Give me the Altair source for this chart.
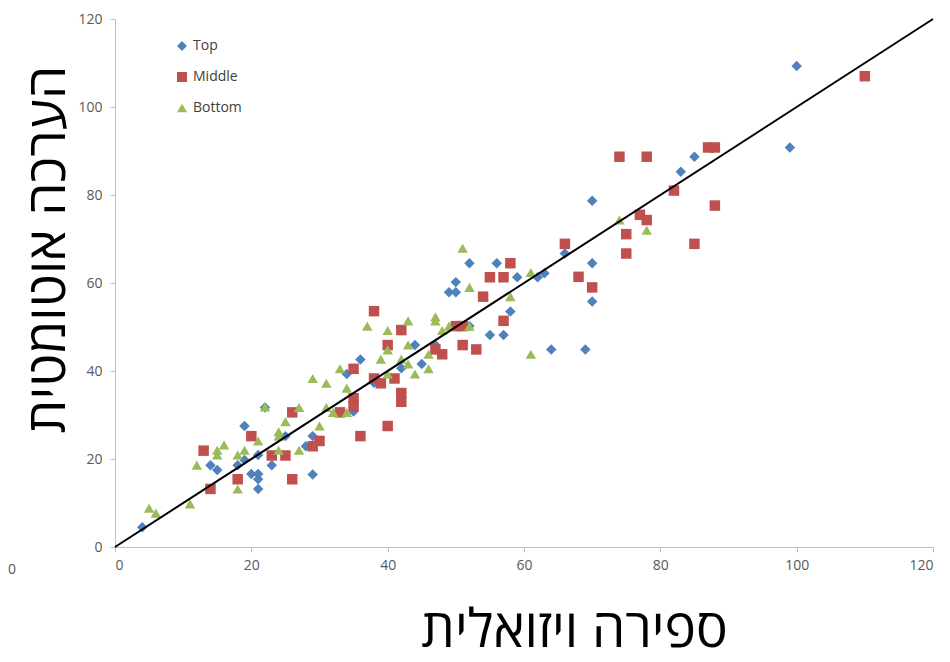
import altair as alt
import pandas as pd

series_names = ["Top", "Middle", "Bottom"]
series_colors = ["#4f81bd", "#c0504d", "#9bbb59"]
series_shapes = ["diamond", "square", "triangle-up"]

top_x = [4, 14, 15, 18, 19, 19, 20, 21, 21, 21, 21, 23, 22, 25, 28, 29, 29, 34, 36, 35, 38, 42,
         49, 50, 50, 59, 62, 63, 58, 55, 57, 64, 69, 70, 44, 45, 47, 52, 52, 56, 66, 70, 70, 83,
         85, 99, 100]
top_y = [4.5, 18.6, 17.5, 18.6, 27.5, 19.8, 16.6, 16.6, 15.4, 13.2, 20.9, 18.6, 31.7, 25.2, 22.9,
         25.2, 16.5, 39.3, 42.6, 30.8, 37.3, 40.6, 57.9, 57.9, 60.2, 61.3, 61.3, 62.2, 53.5, 48.2,
         48.2, 44.9, 44.9, 55.8, 45.9, 41.6, 45.9, 50.2, 64.5, 64.5, 66.7, 64.5, 78.7, 85.3, 88.7,
         90.8, 109.3]

mid_x = [13, 14, 18, 20, 23, 25, 26, 26, 29, 30, 33, 35, 35, 35, 36, 38, 38, 39, 40, 40, 41, 42,
         42, 42, 47, 48, 50, 51, 51, 53, 54, 55, 57, 57, 58, 66, 68, 70, 74, 75, 75, 77, 78, 78,
         82, 85, 87, 88, 88, 110]
mid_y = [21.9, 13.2, 15.4, 25.2, 20.8, 20.8, 15.4, 30.6, 22.9, 24.1, 30.6, 40.5, 33.8, 32.0, 25.2,
         53.6, 38.3, 37.2, 45.9, 27.5, 38.3, 49.3, 35.0, 33.0, 44.9, 43.8, 50.2, 50.2, 45.9, 44.9,
         56.9, 61.3, 61.3, 51.4, 64.5, 68.9, 61.4, 59.0, 88.7, 71.1, 66.7, 75.5, 74.3, 88.7, 81.0,
         68.9, 90.8, 90.8, 77.6, 107.0]

bot_x = [5, 6, 11, 12, 15, 15, 16, 18, 18, 19, 21, 22, 24, 24, 24, 25, 27, 27, 29, 30, 31, 31,
         32, 33, 34, 34, 37, 39, 40, 40, 40, 42, 43, 43, 43, 44, 46, 46, 47, 47, 48, 49, 51, 52,
         52, 58, 61, 61, 74, 78]
bot_y = [8.8, 7.7, 9.8, 18.6, 22.0, 20.9, 23.2, 20.9, 13.2, 22.0, 24.1, 31.8, 26.2, 25.2, 22.0,
         28.5, 31.7, 22.0, 38.3, 27.5, 37.2, 31.7, 30.6, 40.5, 36.1, 30.6, 50.2, 42.7, 49.2, 44.8,
         39.3, 42.7, 51.4, 45.9, 41.6, 39.3, 43.8, 40.5, 52.3, 51.4, 49.2, 50.2, 67.9, 59.0, 50.2,
         56.9, 43.8, 62.4, 74.3, 72.0]

line_x = [0, 120]
line_y = [0, 120]

x_ticks = [0, 20, 40, 60, 80, 100, 120]
y_ticks = [0, 20, 40, 60, 80, 100, 120]

rows = []
for name, xs, ys in [("Top", top_x, top_y), ("Middle", mid_x, mid_y), ("Bottom", bot_x, bot_y)]:
    for xv, yv in zip(xs, ys):
        rows.append({"x": xv, "y": yv, "series": name})
df = pd.DataFrame(rows)
df["order"] = range(len(df))

line_df = pd.DataFrame({"x": line_x, "y": line_y})

label_font = "Open Sans"
title_font = "Open Sans, DejaVu Sans"

x_scale = alt.Scale(domain=[0, 120], nice=False)
y_scale = alt.Scale(domain=[0, 120], nice=False)

x_axis = alt.Axis(values=x_ticks, grid=False, domainColor="#bfbfbf", tickColor="#bfbfbf",
                  tickSize=5, labelFont=label_font, labelFontSize=14, labelColor="#595959",
                  labelPadding=6, title="ספירה ויזואלית", titleFont=title_font,
                  titleFontSize=53, titleFontWeight="normal", titleColor="#000000",
                  titleX=459, titleY=99, titleAlign="center", titleBaseline="alphabetic")
y_axis = alt.Axis(values=y_ticks, grid=False, domainColor="#bfbfbf", tickColor="#bfbfbf",
                  tickSize=5, labelFont=label_font, labelFontSize=14, labelColor="#595959",
                  labelPadding=8, title="הערכה אוטומטית", titleFont=title_font,
                  titleFontSize=53, titleFontWeight="normal", titleColor="#000000",
                  titleX=-51, titleY=230, titleAlign="center", titleBaseline="alphabetic",
                  titleAngle=270)

points = alt.Chart(df).mark_point(filled=True, opacity=1, size=110).encode(
    x=alt.X("x:Q", scale=x_scale, axis=x_axis),
    y=alt.Y("y:Q", scale=y_scale, axis=y_axis),
    color=alt.Color("series:N", scale=alt.Scale(domain=series_names, range=series_colors),
                    legend=alt.Legend(title=None, orient="none", legendX=60, legendY=20,
                                      labelFont="Open Sans", labelFontSize=14,
                                      labelColor="#404040", symbolSize=100,
                                      rowPadding=17, labelOffset=4)),
    shape=alt.Shape("series:N", scale=alt.Scale(domain=series_names, range=series_shapes),
                    legend=None),
    order=alt.Order("order:Q"),
)

line = alt.Chart(line_df).mark_line(color="#000000", strokeWidth=2).encode(
    x=alt.X("x:Q", scale=x_scale),
    y=alt.Y("y:Q", scale=y_scale),
)

stray = alt.Chart(pd.DataFrame({"t": ["0"]})).mark_text(
    font=label_font, fontSize=14, color="#595959", baseline="middle", align="left"
).encode(x=alt.value(-107), y=alt.value(551), text="t:N")

chart = alt.layer(points, line, stray).properties(
    width=818, height=528,
    autosize=alt.AutoSizeParams(type="none"),
    padding={"left": 107, "top": 11, "right": 9, "bottom": 115},
).configure_view(stroke=None)

chart.save("out.html", embed_options={"renderer": "svg", "actions": False})
